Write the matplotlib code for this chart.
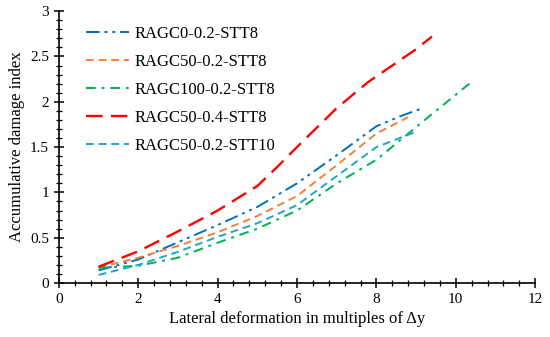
import matplotlib
matplotlib.use("Agg")
import matplotlib.pyplot as plt
from matplotlib.ticker import MultipleLocator

plt.rcParams['font.family'] = ['Liberation Serif', 'DejaVu Serif']

# Data
x_c0 = [1, 2, 3, 4, 5, 6, 7, 8, 8.6, 9.1]
y_c0 = [0.14, 0.26, 0.45, 0.64, 0.84, 1.1, 1.41, 1.73, 1.84, 1.92]

x_c50 = [1, 2, 3, 4, 5, 6, 7, 8, 8.8]
y_c50 = [0.17, 0.28, 0.41, 0.56, 0.74, 0.96, 1.3, 1.65, 1.83]

x_c100 = [1, 2, 3, 4, 5, 6, 7, 8, 9, 9.5, 10.4]
y_c100 = [0.17, 0.19, 0.28, 0.445, 0.6, 0.8, 1.1, 1.36, 1.72, 1.9, 2.22]

x_c50_04 = [1, 2, 3, 4, 5, 5.5, 6, 7, 7.8, 8.4, 9, 9.4]
y_c50_04 = [0.18, 0.35, 0.57, 0.8, 1.07, 1.28, 1.5, 1.93, 2.22, 2.4, 2.58, 2.72]

x_c50_t10 = [1, 2, 3, 4, 5, 6, 7, 8, 9]
y_c50_t10 = [0.09, 0.2, 0.345, 0.51, 0.66, 0.86, 1.18, 1.5, 1.67]

labels = ['RAGC0-0.2-STT8', 'RAGC50-0.2-STT8', 'RAGC100-0.2-STT8',
          'RAGC50-0.4-STT8', 'RAGC50-0.2-STT10']

fig = plt.figure(figsize=(5.5, 3.37), dpi=100)
ax = fig.add_axes([0.107, 0.160, 0.866, 0.807])

ax.plot(x_c0, y_c0, color='#0070C0', lw=1.4, dashes=(7, 2.5, 1.5, 2.5, 1.5, 2.5), label=labels[0])
ax.plot(x_c50, y_c50, color='#F4813A', lw=1.4, dashes=(4, 2.5), label=labels[1])
ax.plot(x_c100, y_c100, color='#00B050', lw=1.4, dashes=(5, 3, 1.5, 3), label=labels[2])
ax.plot(x_c50_04, y_c50_04, color='#FF0000', lw=1.7, dashes=(7, 3.5), label=labels[3])
ax.plot(x_c50_t10, y_c50_t10, color='#1AA7C9', lw=1.4, dashes=(4, 2.5), label=labels[4])

ax.set_xlim(0, 12)
ax.set_ylim(0, 3)
ax.xaxis.set_major_locator(MultipleLocator(2))
ax.xaxis.set_minor_locator(MultipleLocator(0.4))
ax.yaxis.set_major_locator(MultipleLocator(0.5))
ax.yaxis.set_minor_locator(MultipleLocator(0.1))
ax.yaxis.set_major_formatter(plt.FuncFormatter(lambda v, p: f"{v:g}"))

ax.spines['top'].set_visible(False)
ax.spines['right'].set_visible(False)
for s in ('left', 'bottom'):
    ax.spines[s].set_linewidth(1.2)
ax.tick_params(which='major', direction='inout', length=7, width=1.1, labelsize=11)
ax.tick_params(which='minor', direction='inout', length=4, width=0.9)

ax.set_xlabel('Lateral deformation in multiples of Δy', fontsize=12)
ax.set_ylabel('Accumulative damage index', fontsize=12)

ax.legend(loc='upper left', bbox_to_anchor=(0.025, 1.0), frameon=False, fontsize=12,
          handlelength=2.6, labelspacing=0.72, handletextpad=0.35)

fig.savefig('out.png', dpi=100)
